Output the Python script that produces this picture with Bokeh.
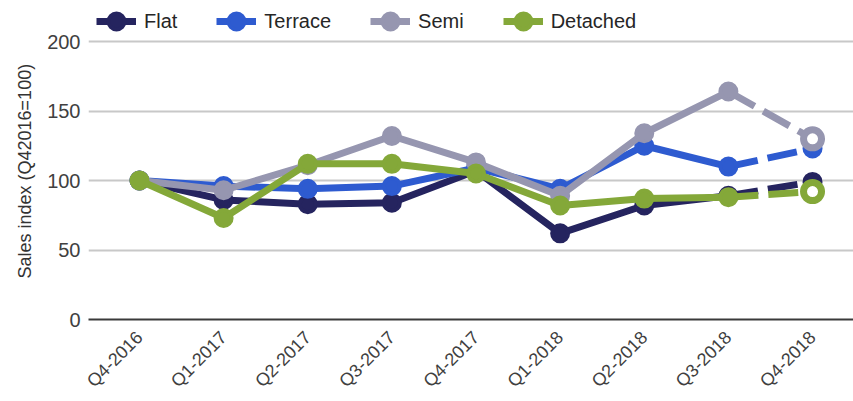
import numpy as np
from bokeh.plotting import figure
from bokeh.models import Range1d, FixedTicker, Legend, LegendItem, Title
from bokeh.embed import file_html
from bokeh.resources import INLINE

quarters = ["Q4-2016", "Q1-2017", "Q2-2017", "Q3-2017", "Q4-2017",
            "Q1-2018", "Q2-2018", "Q3-2018", "Q4-2018"]
flat = [100, 86, 83, 84, 107, 62, 82, 89, 99]
terrace = [100, 96, 94, 96, 109, 94, 125, 110, 123]
semi = [100, 93, 111, 132, 113, 89, 134, 164, 130]
detached = [100, 73, 112, 112, 105, 82, 87, 88, 92]
y_ticks = [0, 50, 100, 150, 200]

series = [
    ("Flat", flat, "#25245f", False),
    ("Terrace", terrace, "#2e5bd0", False),
    ("Semi", semi, "#9696b0", True),
    ("Detached", detached, "#84a839", True),
]

FONT = "Liberation Sans"
xs = list(range(len(quarters)))

p = figure(width=853, height=401, output_backend="svg", toolbar_location=None,
           x_range=Range1d(-0.606, 8.487), y_range=Range1d(0, 229.5),
           min_border_left=88, min_border_right=0, min_border_top=0,
           min_border_bottom=82)
p.outline_line_color = None
p.background_fill_color = "white"
p.border_fill_color = "white"

# axes
p.xaxis.ticker = FixedTicker(ticks=xs)
p.xaxis.major_label_overrides = {i: q for i, q in zip(xs, quarters)}
p.xaxis.major_label_orientation = np.pi / 4
p.xaxis.major_label_text_font = FONT
p.xaxis.major_label_text_font_size = "18px"
p.xaxis.major_label_text_line_height = 1.0
p.xaxis.major_label_text_color = "#404040"
p.xaxis.axis_line_color = "#3a3a3a"
p.xaxis.axis_line_width = 2
p.xaxis.major_tick_line_color = None
p.xaxis.minor_tick_line_color = None
p.xaxis.major_label_standoff = 9

p.yaxis.ticker = FixedTicker(ticks=y_ticks)
p.yaxis.major_label_text_font = FONT
p.yaxis.major_label_text_font_size = "20px"
p.yaxis.major_label_text_color = "#404040"
p.yaxis.axis_line_color = None
p.yaxis.major_tick_line_color = None
p.yaxis.minor_tick_line_color = None
p.yaxis.major_label_standoff = 2

ytitle = Title(text="Sales index (Q42016=100)", align="left", offset=41,
               vertical_align="bottom", standoff=20,
               text_font=FONT, text_font_size="18px",
               text_font_style="normal", text_color="#333333")
p.add_layout(ytitle, "left")

p.xgrid.grid_line_color = None
p.ygrid.ticker = FixedTicker(ticks=y_ticks)
p.ygrid.grid_line_color = "#c8c8c8"
p.ygrid.grid_line_width = 2

items = []
for name, vals, color, hollow_last in series:
    solid = p.line(xs[:-1], vals[:-1], line_color=color, line_width=7,
                   line_join="round")
    p.line(xs[-2:], vals[-2:], line_color=color, line_width=7,
           line_dash="30 10")
    if hollow_last:
        dots = p.scatter(xs[:-1], vals[:-1], size=16, fill_color=color,
                         line_color=color, line_width=4)
        p.scatter(xs[-1:], vals[-1:], size=18, fill_color="white",
                  line_color=color, line_width=7)
    else:
        dots = p.scatter(xs, vals, size=16, fill_color=color,
                         line_color=color, line_width=4)
    items.append(LegendItem(label=name, renderers=[solid, dots]))

legend = Legend(items=items, orientation="horizontal", location=(8, 277),
                glyph_width=40, glyph_height=42, label_standoff=8,
                spacing=39, padding=0, margin=0,
                label_text_font=FONT, label_text_font_size="20px",
                label_text_color="#262626",
                border_line_color=None, background_fill_alpha=0)
p.add_layout(legend, "center")

open("out.html", "w").write(file_html(p, INLINE))
